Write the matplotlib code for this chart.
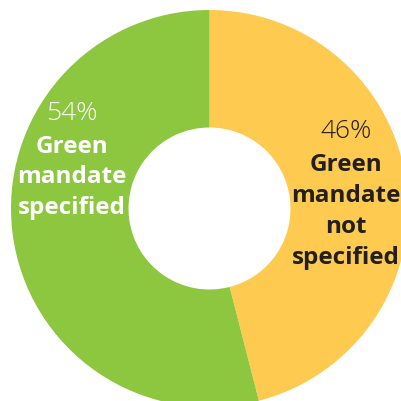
import matplotlib.pyplot as plt

# data
labels = ["Green\nmandate\nnot\nspecified", "Green\nmandate\nspecified"]
shares = [46, 54]
colors = ["#FECB50", "#8DC63F"]

W = H = 402
fig = plt.figure(figsize=(W / 100, H / 100), dpi=100)
ax = fig.add_axes([0, 0, 1, 1])

cx, cy = 209.5, H - 209.5
R, r = 198.5, 81
ax.pie(shares, colors=colors, radius=R, center=(cx, cy), startangle=90,
       counterclock=False, wedgeprops=dict(width=R - r, linewidth=0))
ax.set_xlim(0, W)
ax.set_ylim(0, H)
ax.set_aspect("equal")
ax.axis("off")

font = "Open Sans"
# right (yellow) labels
ax.text(346, H - 131, f"{shares[0]}%", ha="center", va="center", fontsize=19,
        family=font, fontweight="light", color="#231F20")
ax.text(346, H - 211.5, labels[0], ha="center", va="center", fontsize=17.5,
        family=font, fontweight="bold", color="#231F20", linespacing=1.38)
# left (green) labels
ax.text(72, H - 114, f"{shares[1]}%", ha="center", va="center", fontsize=19,
        family=font, fontweight="light", color="white")
ax.text(72, H - 177.5, labels[1], ha="center", va="center", fontsize=17.5,
        family=font, fontweight="bold", color="white", linespacing=1.38)

fig.savefig("out.png", dpi=100, facecolor="white")
